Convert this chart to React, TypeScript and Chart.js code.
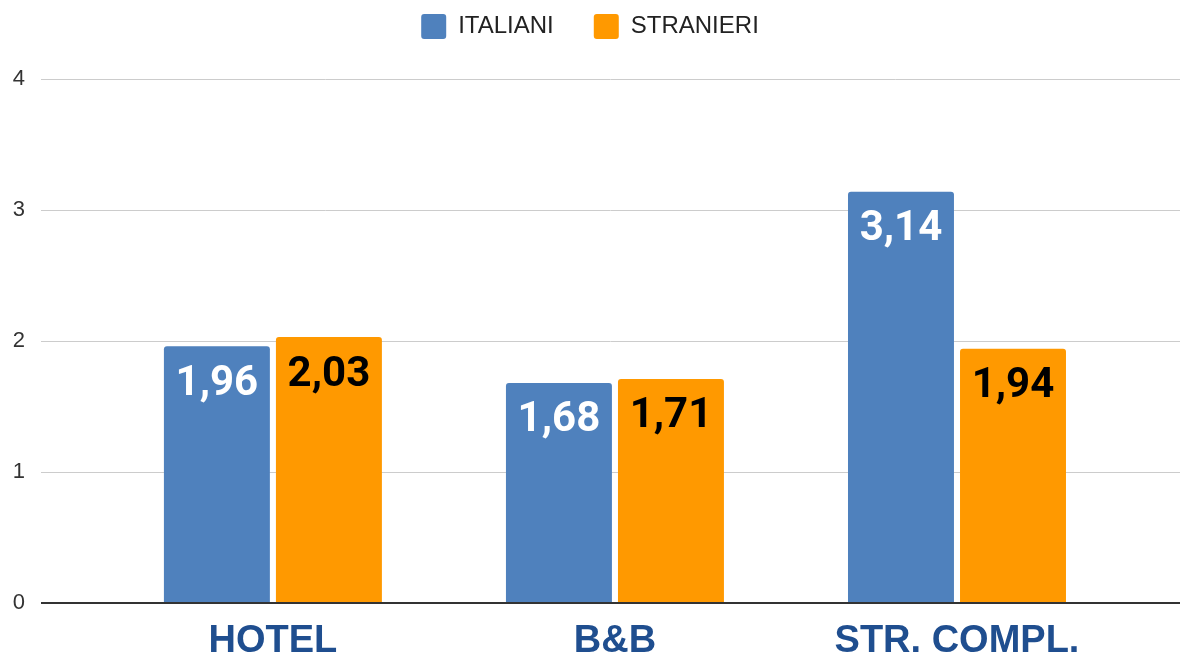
import React, { useEffect, useRef } from "react";
import { Chart, registerables } from "chart.js";

Chart.register(...registerables);

const CATEGORIES = ["HOTEL", "B&B", "STR. COMPL."];
const ITALIANI = [1.96, 1.68, 3.14];
const STRANIERI = [2.03, 1.71, 1.94];
const SERIES_NAMES = ["ITALIANI", "STRANIERI"];
const Y_TICKS_MAX = 4;

const BLUE = "#4f81bd";
const ORANGE = "#ff9900";

const valueLabels = {
  id: "valueLabels",
  afterDatasetsDraw(chart: any) {
    const ctx = chart.ctx;
    ctx.save();
    ctx.font = "bold 42px Roboto";
    ctx.textAlign = "center";
    ctx.textBaseline = "middle";
    chart.data.datasets.forEach((ds: any, i: number) => {
      const meta = chart.getDatasetMeta(i);
      ctx.fillStyle = i === 0 ? "#ffffff" : "#000000";
      meta.data.forEach((bar: any, j: number) => {
        const v = ds.data[j].y as number;
        const text = v.toFixed(2).replace(".", ",");
        ctx.fillText(text, bar.x, bar.y + 38);
      });
    });
    ctx.restore();
  },
};

const legendSpacer = {
  id: "legendSpacer",
  beforeInit(chart: any) {
    const legend = chart.legend;
    if (!legend) return;
    const origFit = legend.fit;
    legend.fit = function () {
      origFit.call(this);
      this.height += 30;
    };
  },
};

export default function App() {
  const canvasRef = useRef<HTMLCanvasElement | null>(null);

  useEffect(() => {
    document.body.style.margin = "0";
    const canvas = canvasRef.current;
    if (!canvas) return;
    const chart = new Chart(canvas, {
      type: "bar",
      data: {
        datasets: [
          {
            label: SERIES_NAMES[0],
            data: ITALIANI.map((v, i) => ({ x: i, y: v })),
            backgroundColor: BLUE,
            borderWidth: 0,
            borderRadius: { topLeft: 3, topRight: 3, bottomLeft: 0, bottomRight: 0 },
            borderSkipped: false,
            barPercentage: 0.946,
            categoryPercentage: 0.655,
          },
          {
            label: SERIES_NAMES[1],
            data: STRANIERI.map((v, i) => ({ x: i, y: v })),
            backgroundColor: ORANGE,
            borderWidth: 0,
            borderRadius: { topLeft: 3, topRight: 3, bottomLeft: 0, bottomRight: 0 },
            borderSkipped: false,
            barPercentage: 0.946,
            categoryPercentage: 0.655,
          },
        ],
      },
      options: {
        animation: false,
        responsive: false,
        maintainAspectRatio: false,
        layout: { padding: { top: -26, left: 0, right: 0, bottom: 0 } },
        plugins: {
          legend: {
            display: true,
            position: "top",
            align: "center",
            labels: {
              boxWidth: 25,
              boxHeight: 25,
              padding: 40,
              useBorderRadius: true,
              borderRadius: 3,
              color: "#222222",
              font: { family: "'Liberation Sans', Arial, sans-serif", size: 24 },
            },
          },
          tooltip: { enabled: false },
        },
        scales: {
          x: {
            type: "linear",
            offset: false,
            min: -0.678,
            max: 2.652,
            grid: { display: false, offset: false },
            border: { display: false },
            afterFit(scale: any) {
              scale.height = 52;
            },
            ticks: {
              stepSize: 1,
              includeBounds: false,
              autoSkip: false,
              maxRotation: 0,
              padding: 8,
              color: "#1f4e8f",
              font: { family: "'Liberation Sans', Arial, sans-serif", size: 38, weight: "bold" },
              callback: (value: any) =>
                Number.isInteger(value) && CATEGORIES[value] !== undefined ? CATEGORIES[value] : "",
            },
          },
          y: {
            min: 0,
            max: Y_TICKS_MAX,
            border: { display: false },
            afterFit(scale: any) {
              scale.width = 41;
            },
            grid: {
              drawTicks: false,
              color: (ctx: any) => (ctx.tick && ctx.tick.value === 0 ? "#333333" : "#cccccc"),
              lineWidth: (ctx: any) => (ctx.tick && ctx.tick.value === 0 ? 2 : 1),
            },
            ticks: {
              stepSize: 1,
              padding: 16,
              color: "#333333",
              font: { family: "'Liberation Sans', Arial, sans-serif", size: 22 },
            },
          },
        },
      },
      plugins: [valueLabels, legendSpacer],
    } as any);
    return () => chart.destroy();
  }, []);

  return (
    <div style={{ width: 1180, height: 655, position: "relative" }}>
      <canvas ref={canvasRef} width={1180} height={655} style={{ display: "block" }} />
    </div>
  );
}
